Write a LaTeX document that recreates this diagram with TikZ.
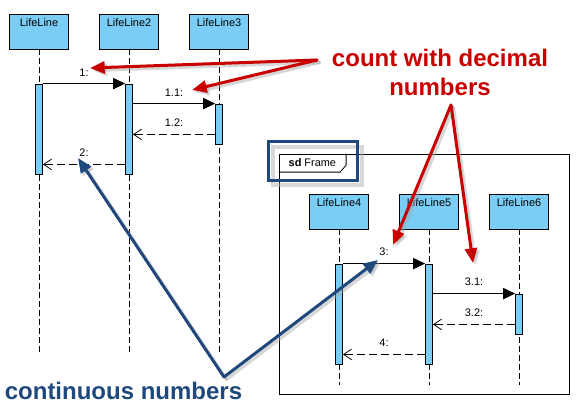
\documentclass[tikz,border=0pt]{standalone}
\usepackage{fontspec}
\setmainfont{Liberation Sans}
\usetikzlibrary{arrows.meta, positioning, calc}
\definecolor{lifeblue}{RGB}{122,206,245}
\definecolor{callred}{RGB}{200,0,0}
\definecolor{callblue}{RGB}{31,73,125}
\tikzset{
  head/.style={rectangle, draw=black, fill=lifeblue,
    minimum width=44.25pt, minimum height=26.25pt,
    inner sep=0pt, line width=0.6pt},
  headtxt/.style={anchor=north, inner sep=0pt, yshift=-3.5pt,
    font=\fontsize{8.2}{9}\selectfont},
  act/.style={rectangle, draw=black, fill=lifeblue,
    minimum width=5.25pt, inner sep=0pt, line width=0.6pt},
  life/.style={dash pattern=on 4.5pt off 2.25pt, line width=0.6pt},
  call/.style={-{Triangle[length=9pt,width=8.5pt]}, line width=0.6pt},
  reply/.style={-{Straight Barb[length=6pt,width=8pt]},
    dash pattern=on 6pt off 3pt, line width=0.6pt},
  msglab/.style={midway, above=2pt, font=\fontsize{8.2}{9}\selectfont},
  redcall/.style={-{Triangle[length=11pt,width=9pt]}, line width=2.25pt,
    line cap=round, color=callred},
  bluecall/.style={-{Triangle[length=11pt,width=9pt]}, line width=2.25pt,
    line cap=round, color=callblue},
  callshade/.style={-{Triangle[length=11pt,width=9pt]}, line width=2.6pt,
    line cap=round, color=black!35, opacity=0.45,
    transform canvas={shift={(1.8pt,-1.8pt)}}},
  calltxt/.style={align=center, font=\bfseries\fontsize{18}{21.75}\selectfont}
}
\begin{document}
\begin{tikzpicture}[x=0.75pt, y=-0.75pt]
  \useasboundingbox (0,0) rectangle (581,406);

  % frame of the second interaction
  \node[draw, line width=0.6pt, minimum width=217.5pt, minimum height=180pt] (frm) at (424,274) {};
  \node[anchor=north west, minimum width=50.25pt, minimum height=13.5pt, inner sep=0pt,
    font=\fontsize{8.2}{9}\selectfont] (tab) at (frm.north west) {\textbf{sd} Frame};
  \draw[line width=0.6pt] (tab.south west) -- ([xshift=-4.5pt]tab.south east)
    -- ([yshift=5.25pt]tab.south east) -- (tab.north east);
  \node[draw=black!30, opacity=0.5, line width=2.6pt, minimum width=66.75pt, minimum height=28.5pt,
    transform canvas={shift={(1.8pt,-1.8pt)}}] at (312.5,161) {};
  \node[draw=callblue, line width=2.25pt, minimum width=66.75pt, minimum height=28.5pt] (hl) at (312.5,161) {};

  % lifelines
  \foreach \n/\x/\lab in {1/39/LifeLine, 2/129/LifeLine2, 3/219/LifeLine3} {
    \node[head, label={[headtxt]north:\lab}] (h\n) at (\x,31.5) {};
    \draw[life] (h\n.south) -- ++(0,305);
  }
  \foreach \n/\x/\lab in {4/339/LifeLine4, 5/429/LifeLine5, 6/519/LifeLine6} {
    \node[head, label={[headtxt]north:\lab}] (h\n) at (\x,211.5) {};
    \draw[life] (h\n.south) -- ++(0,156);
  }

  % activations
  \node[act, minimum height=67.5pt] (a1) at (39,129) {};
  \node[act, minimum height=67.5pt] (a2) at (129,129) {};
  \node[act, minimum height=30pt] (a3) at (219,124) {};
  \node[act, minimum height=75pt] (a4) at (339,314) {};
  \node[act, minimum height=75pt] (a5) at (429,314) {};
  \node[act, minimum height=30pt] (a6) at (519,314) {};

  % messages
  \coordinate (r12) at ([yshift=7.5pt]a3.south west);
  \coordinate (r2) at ([yshift=7.5pt]a2.south west);
  \coordinate (r32) at ([yshift=7.5pt]a6.south west);
  \coordinate (r4) at ([yshift=7.5pt]a5.south west);
  \draw[call] (a1.north east) -- (a2.north west) node[msglab] {1:};
  \draw[call] (a2.east |- a3.north) -- (a3.north west) node[msglab] {1.1:};
  \draw[reply] (r12) -- (r12 -| a2.east) node[msglab] {1.2:};
  \draw[reply] (r2) -- (r2 -| a1.east) node[msglab] {2:};
  \draw[call] (a4.north east) -- (a5.north west) node[msglab] {3:};
  \draw[call] (a5.east |- a6.north) -- (a6.north west) node[msglab] {3.1:};
  \draw[reply] (r32) -- (r32 -| a5.east) node[msglab] {3.2:};
  \draw[reply] (r4) -- (r4 -| a4.east) node[msglab] {4:};

  % callouts
  \node[calltxt, text=callred] (dec) at (440,72) {count with decimal\\numbers};
  \node[calltxt, text=callblue] (cont) at (123.5,391) {continuous numbers};
  \coordinate (rv1) at (317,60);
  \coordinate (rv2) at (451,105);
  \coordinate (bv) at (224,377);
  \coordinate (rt1) at (90,68);
  \coordinate (rt2) at (192,90);
  \coordinate (rt3) at (393,245);
  \coordinate (rt4) at (473,263);
  \coordinate (bt1) at (78,158);
  \coordinate (bt2) at (378,260);
  \foreach \from/\to in {rv1/rt1, rv1/rt2, rv2/rt3, rv2/rt4, bv/bt1, bv/bt2}
    \draw[callshade] (\from) -- (\to);
  \foreach \from/\to/\sty in {rv1/rt1/redcall, rv1/rt2/redcall, rv2/rt3/redcall,
    rv2/rt4/redcall, bv/bt1/bluecall, bv/bt2/bluecall}
    \draw[\sty] (\from) -- (\to);
\end{tikzpicture}
\end{document}
